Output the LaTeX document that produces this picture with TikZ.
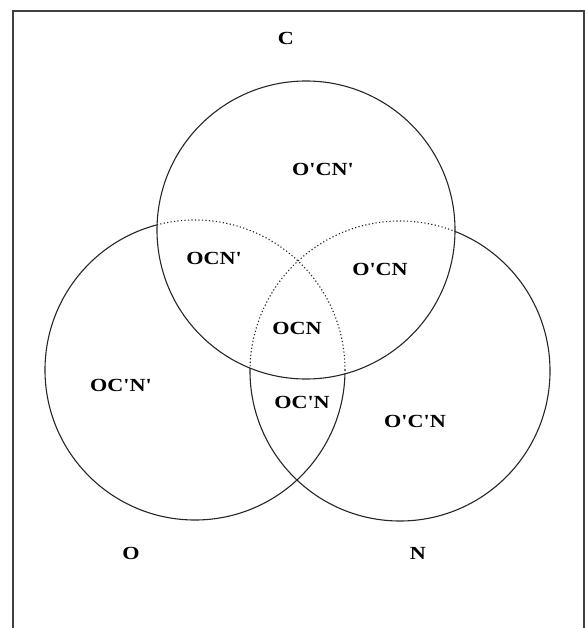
\documentclass[tikz,border=0pt]{standalone}
\usepackage{fontspec}
\newfontfamily\lab{Liberation Serif}[Ligatures=TeXOff, FakeStretch=1.2]
\begin{document}
\begin{tikzpicture}[x=1pt,y=-1pt,
  lbl/.style={font=\lab\bfseries\fontsize{18.5}{20}\selectfont, inner sep=0pt},
  solidring/.style={line width=1.1pt, black!85},
  dotring/.style={line width=1.1pt, black!85, dash pattern=on 1.2pt off 2.3pt}]
\useasboundingbox (0,0) rectangle (585,628);
\draw[line width=1.6pt, black!75] (13,11) rectangle (584,660);
% circle C
\draw[solidring] (306,230) circle[radius=149pt];
% parts of O and N inside C: dotted
\begin{scope}
  \clip (306,230) circle[radius=149pt];
  \draw[dotring] (195,370) circle[radius=150pt];
  \draw[dotring] (400,371) circle[radius=150pt];
\end{scope}
% parts of O and N outside C: solid
\begin{scope}[even odd rule]
  \clip (0,0) rectangle (585,628) (306,230) circle[radius=149pt];
  \draw[solidring] (195,370) circle[radius=150pt];
  \draw[solidring] (400,371) circle[radius=150pt];
\end{scope}
% labels
\node[lbl] (lc) at (286,38) {C};
\node[lbl] (lo) at (131,553) {O};
\node[lbl] (ln) at (418,553) {N};
\node[lbl] (r1) at (323,169) {O'CN'};
\node[lbl] (r2) at (214,258) {OCN'};
\node[lbl] (r3) at (380,269) {O'CN};
\node[lbl] (r4) at (297,328) {OCN};
\node[lbl] (r5) at (121,385) {OC'N'};
\node[lbl] (r6) at (302,402) {OC'N};
\node[lbl] (r7) at (415,421) {O'C'N};
\end{tikzpicture}
\end{document}
